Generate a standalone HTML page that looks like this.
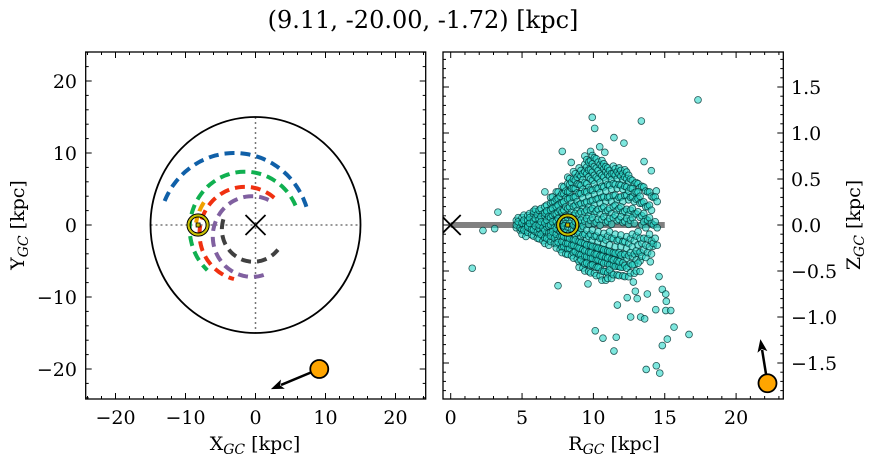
<!DOCTYPE html>
<html><head><meta charset="utf-8"><style>
html,body{margin:0;padding:0;background:#fff;}
svg{display:block;font-family:"DejaVu Serif","Liberation Serif",serif;}
</style></head><body>
<svg id="fig" width="874" height="464" viewBox="0 0 874 464" xmlns="http://www.w3.org/2000/svg">
<text x="423" y="28" font-size="24" text-anchor="middle">(9.11, -20.00, -1.72) [kpc]</text>
<defs>
<clipPath id="clipL"><rect x="85.7" y="52" width="340" height="347"/></clipPath>
<clipPath id="clipR"><rect x="443" y="52" width="340.3" height="347"/></clipPath>
</defs>
<g id="left"></g>
<g id="right"></g>
</svg>
<script>
// ---- data ----
const objX = 9.11, objY = -20.00, objZ = -1.72;
const objVelEndX = 2.2, objVelEndY = -22.8;
const objVelEndR = 21.7, objVelEndZ = -1.24;
const sunX = -8.2, sunR = 8.2;
const armNames = ['arm-outer-blue','arm-green','arm-red','arm-purple','arm-inner-gray','arm-orange'];
const armColors = ['#1060a8','#10b050','#f03010','#8060a0','#404040','#f0a000'];
const armCx = [-3, -1.5, -1.5, -0.5, -0.3, -1];
const armCy = [-0.8, -0.5, -1.2, -1.6, -0.6, -1];
const armRad = [10.8, 7.9, 6.5, 5.6, 4.5, 7.6];
const armStart = [18, 24, 50, 65, 162, 147];
const armEnd = [159, 227, 256, 291, 321, 170];
const xTicks = [-20,-10,0,10,20];
const yTicks = [-20,-10,0,10,20];
const rTicks = [0,5,10,15,20];
const zTicks = [-1.5,-1.0,-0.5,0.0,0.5,1.0,1.5];
const zTickLabels = ['\u22121.5','\u22121.0','\u22120.5','0.0','0.5','1.0','1.5'];
const colR = [4.6,5.0,5.4,5.8,6.2,6.6,7.0,7.4,7.8,8.2,8.6,9.0,9.4,9.8,10.2,10.6,11.0,11.4,11.8,12.2,12.6,13.0,13.4,13.8,14.2];
const colZ = [
[0.05,-0.03,0.0],
[0.08,-0.05,0.02,-0.1],
[0.1,-0.08,0.0,0.05,-0.02],
[0.12,-0.12,0.04,-0.05,0.15],
[0.16,-0.1,0.06,-0.04,0.0,-0.15],
[0.2,-0.14,0.1,-0.06,0.02,0.13,-0.2],
[0.24,-0.18,0.08,-0.08,0.16,0.0,-0.12,0.3],
[0.28,-0.2,0.12,-0.1,0.2,0.04,-0.25,0.36,-0.04],
[0.34,-0.24,0.14,-0.12,0.24,0.05,-0.3,0.42,-0.05,-0.18],
[0.36,-0.26,0.18,-0.14,0.28,0.08,-0.32,0.45,-0.02,-0.2,0.52],
[0.4,-0.3,0.2,-0.16,0.3,0.1,-0.36,0.5,-0.06,-0.22,0.58,0.0],
[0.44,-0.32,0.22,-0.18,0.34,0.12,-0.4,0.55,-0.08,-0.25,0.62,0.02,-0.46],
[0.46,-0.34,0.24,-0.2,0.36,0.14,-0.42,0.58,-0.1,-0.28,0.66,0.04,-0.5,0.75],
[0.5,-0.36,0.26,-0.22,0.38,0.16,-0.44,0.6,-0.1,-0.3,0.7,0.05,-0.52,0.8],
[0.52,-0.38,0.28,-0.24,0.4,0.15,-0.46,0.62,-0.12,-0.32,0.72,0.03,-0.55],
[0.54,-0.4,0.3,-0.26,0.42,0.18,-0.5,0.64,-0.14,-0.34,0.7,0.06,-0.6],
[0.55,-0.42,0.3,-0.28,0.44,0.16,-0.52,0.62,-0.12,-0.36,0.04,-0.58],
[0.56,-0.44,0.32,-0.3,0.45,0.2,-0.54,0.64,-0.15,-0.38,0.08],
[0.55,-0.45,0.3,-0.3,0.44,0.18,-0.55,0.62,-0.16,0.06,-0.4],
[0.52,-0.44,0.32,-0.32,0.42,0.15,-0.56,0.6,-0.18,0.04],
[0.5,-0.42,0.3,-0.3,0.4,0.16,-0.52,-0.15,0.05],
[0.46,-0.38,0.28,-0.28,0.36,0.12,-0.5,-0.12],
[0.42,-0.34,0.24,0.1,-0.2,0.0],
[0.36,-0.3,0.2,0.05,-0.15],
[0.3,0.0,-0.2]
];
const outR = [9.92,10.09,13.36,11.44,12.14,7.82,8.45,10.44,10.8,13.55,14.06,14.41,6.6,3.31,2.26,3.08,1.51,7.52,9.62,14.6,14.18,13.99,12.8,12.94,12.37,13.07,13.78,14.83,15.07,15.11,11.68,14.37,15.07,15.42,12.61,13.31,13.59,15.65,10.13,11.6,10.67,15.18,14.83,11.44,16.7,13.7,14.41,14.65,17.33];
const outZ = [1.17,1.05,1.13,0.95,0.89,0.80,0.68,0.85,0.79,0.69,0.59,0.37,0.36,0.14,-0.06,-0.04,-0.47,-0.66,-0.64,-0.56,-0.23,-0.40,-0.62,-0.72,-0.79,-0.80,-0.75,-0.70,-0.75,-0.83,-0.87,-0.92,-0.93,-0.93,-1.00,-1.00,-1.02,-1.11,-1.15,-1.22,-1.23,-1.24,-1.31,-1.37,-1.19,-1.57,-1.53,-1.61,1.36];

// ---- scales ----
const NS='http://www.w3.org/2000/svg';
const L={x0:85.7,x1:425.7,y0:52,y1:399};
const R={x0:443,x1:783.3,y0:52,y1:399};
const sx=v=>255.5+7.0*v, sy=v=>225-7.2*v;
const rx=v=>450.7+14.27*v, rz=v=>225-92*v;
function mk(parent,tag,attrs){const e=document.createElementNS(NS,tag);for(const k in attrs)e.setAttribute(k,attrs[k]);parent.appendChild(e);return e;}
const gL=document.getElementById('left'), gR=document.getElementById('right');
function arrow(g,x1,y1,x2,y2,name){
  const gg=mk(g,'g',{});
  const dx=x2-x1, dy=y2-y1, len=Math.hypot(dx,dy), ux=dx/len, uy=dy/len;
  const hl=13, hw=5;
  const bx=x2-ux*hl, by=y2-uy*hl;
  mk(gg,'line',{x1,y1,x2:bx+ux*2,y2:by+uy*2,stroke:'#000','stroke-width':2.5});
  mk(gg,'polygon',{points:`${x2},${y2} ${bx-uy*hw},${by+ux*hw} ${bx+ux*3},${by+uy*3} ${bx+uy*hw},${by-ux*hw}`,fill:'#000'});
  
  
}

// ---- left panel ----
const lc=mk(gL,'g',{'clip-path':'url(#clipL)'});
let e;
e=mk(lc,'line',{x1:sx(-15),y1:sy(0),x2:sx(15),y2:sy(0),stroke:'#777','stroke-width':1.5,'stroke-dasharray':'2,3'});


e=mk(lc,'line',{x1:sx(0),y1:sy(15),x2:sx(0),y2:sy(-15),stroke:'#777','stroke-width':1.5,'stroke-dasharray':'2,3'});


e=mk(lc,'ellipse',{cx:sx(0),cy:sy(0),rx:7.0*15,ry:7.2*15,fill:'none',stroke:'#000','stroke-width':1.8});


for(let i=0;i<armNames.length;i++){
  let pts=[];
  for(let k=0;k<=60;k++){const a=(armStart[i]+(armEnd[i]-armStart[i])*k/60)*Math.PI/180;
    pts.push(sx(armCx[i]+armRad[i]*Math.cos(a)).toFixed(1)+','+sy(armCy[i]+armRad[i]*Math.sin(a)).toFixed(1));}
  e=mk(lc,'polyline',{points:pts.join(' '),fill:'none',stroke:armColors[i],'stroke-width':4,'stroke-dasharray':'10,6'});
  
  
}
function xmark(g,cx,cy,h,name){const gg=mk(g,'g',{});
  mk(gg,'line',{x1:cx-h,y1:cy-h,x2:cx+h,y2:cy+h,stroke:'#000','stroke-width':1.8});
  mk(gg,'line',{x1:cx-h,y1:cy+h,x2:cx+h,y2:cy-h,stroke:'#000','stroke-width':1.8});
  
  }
function sun(g,cx,cy,name){const gg=mk(g,'g',{});
  mk(gg,'circle',{cx:cx,cy:cy,r:11,fill:'none',stroke:'#000','stroke-width':1.2});
  mk(gg,'circle',{cx:cx,cy:cy,r:9.5,fill:'none',stroke:'#c8c000','stroke-width':2.2});
  mk(gg,'circle',{cx:cx,cy:cy,r:8,fill:'none',stroke:'#000','stroke-width':1});
  mk(gg,'rect',{x:cx-2,y:cy-2,width:4,height:4,fill:'#c8c000',stroke:'#000','stroke-width':0.8});
  
  }
xmark(lc,sx(0),sy(0),10,'galactic-center-marker');
sun(lc,sx(sunX),sy(0),'sun-marker');
arrow(lc,sx(objX),sy(objY),sx(objVelEndX),sy(objVelEndY),'velocity-arrow-xy');
e=mk(lc,'circle',{cx:sx(objX),cy:sy(objY),r:9,fill:'#ffa500',stroke:'#000','stroke-width':1.8});



// ---- right panel ----
const rc=mk(gR,'g',{'clip-path':'url(#clipR)'});
e=mk(rc,'line',{x1:rx(0),y1:rz(0),x2:rx(15),y2:rz(0),stroke:'#808080','stroke-width':6});


const sg=mk(rc,'g',{});


function dot(R_,Z_){const d=mk(sg,'circle',{cx:rx(R_),cy:rz(Z_),r:3.4,fill:'rgba(40,215,200,0.6)',stroke:'rgba(0,50,50,0.8)','stroke-width':0.8});
  
  }
for(let i=0;i<outR.length;i++)dot(outR[i],outZ[i]);
for(let i=0;i<colR.length;i++)for(let j=0;j<colZ[i].length;j++){
  const z=colZ[i][j];
  dot(colR[i],z);
  dot(colR[i]+0.13,z*0.9+0.035);
  dot(colR[i]+0.27,z*0.95-0.03);
}
xmark(rc,rx(0),rz(0),10,'galactic-center-marker-rz');
sun(rc,rx(sunR),rz(0),'sun-marker-rz');
arrow(rc,rx(22.2),rz(objZ),rx(objVelEndR),rz(objVelEndZ),'velocity-arrow-rz');
e=mk(rc,'circle',{cx:rx(22.2),cy:rz(objZ),r:9,fill:'#ffa500',stroke:'#000','stroke-width':1.8});



// ---- axes ----
function frame(g,B,name){e=mk(g,'rect',{x:B.x0,y:B.y0,width:B.x1-B.x0,height:B.y1-B.y0,fill:'none',stroke:'#000','stroke-width':1.3});
  
  }
function tick(g,x1,y1,x2,y2){mk(g,'line',{x1,y1,x2,y2,stroke:'#000','stroke-width':1});}
function txt(g,x,y,s,anchor,name){const t=mk(g,'text',{x,y,'font-size':19,'text-anchor':anchor});t.textContent=s;
  
  return t;}
const minus=v=>String(v).replace('-','\u2212');
frame(gL,L,'xy-axes-frame');
for(let v=-24;v<=24;v+=2){const x=sx(v);const h=v%10===0?6:3;tick(gL,x,L.y1,x,L.y1-h);tick(gL,x,L.y0,x,L.y0+h);}
for(let v=-24;v<=24;v+=2){const y=sy(v);const h=v%10===0?6:3;tick(gL,L.x0,y,L.x0+h,y);tick(gL,L.x1,y,L.x1-h,y);}
xTicks.forEach(v=>txt(gL,sx(v),424,minus(v),'middle','x-tick-label'));
yTicks.forEach(v=>txt(gL,77,sy(v)+7,minus(v),'end','y-tick-label'));
let t=mk(gL,'text',{x:255,y:450,'font-size':19,'text-anchor':'middle'});
t.innerHTML='X<tspan font-size="14" dy="4" font-style="italic">GC</tspan><tspan dy="-4"> [kpc]</tspan>';


t=mk(gL,'text',{x:0,y:0,'font-size':19,'text-anchor':'middle',transform:'translate(24,225) rotate(-90)'});
t.innerHTML='Y<tspan font-size="14" dy="4" font-style="italic">GC</tspan><tspan dy="-4"> [kpc]</tspan>';


frame(gR,R,'rz-axes-frame');
for(let v=0;v<=23;v++){const x=rx(v);const h=v%5===0?6:3;tick(gR,x,R.y1,x,R.y1-h);tick(gR,x,R.y0,x,R.y0+h);}
for(let k=-18;k<=18;k++){const y=rz(k/10);const h=k%5===0?6:3;tick(gR,R.x1,y,R.x1-h,y);tick(gR,R.x0,y,R.x0+h,y);}
rTicks.forEach(v=>txt(gR,rx(v),424,String(v),'middle','r-tick-label'));
zTicks.forEach((v,i)=>txt(gR,791,rz(v)+7,zTickLabels[i],'start','z-tick-label'));
t=mk(gR,'text',{x:614,y:450,'font-size':19,'text-anchor':'middle'});
t.innerHTML='R<tspan font-size="14" dy="4" font-style="italic">GC</tspan><tspan dy="-4"> [kpc]</tspan>';


t=mk(gR,'text',{x:0,y:0,'font-size':19,'text-anchor':'middle',transform:'translate(860,225) rotate(-90)'});
t.innerHTML='Z<tspan font-size="14" dy="4" font-style="italic">GC</tspan><tspan dy="-4"> [kpc]</tspan>';


</script>
</body></html>
